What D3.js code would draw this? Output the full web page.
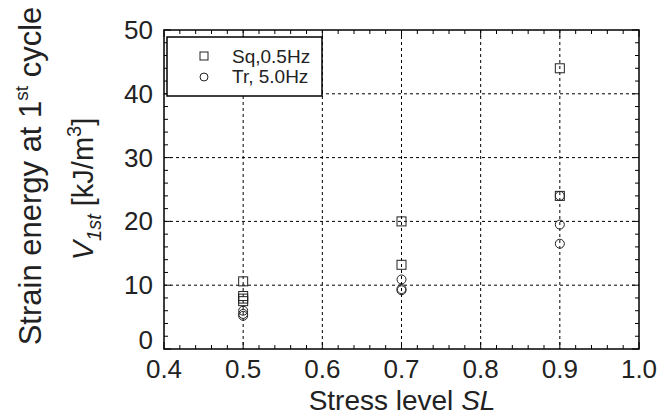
<!DOCTYPE html>
<html>
<head>
<meta charset="utf-8">
<script src="https://cdn.jsdelivr.net/npm/d3@7"></script>
<style>
  body { margin: 0; background: #fff; }
  svg { font-family: "Liberation Sans", Arial, sans-serif; }
</style>
</head>
<body>
<svg id="chart" width="670" height="416"></svg>
<script>
// data
var sqX = [0.5, 0.5, 0.5, 0.5, 0.7, 0.7, 0.9, 0.9];
var sqY = [10.6, 8.3, 7.9, 7.5, 20.0, 13.2, 44.0, 24.0];
var trX = [0.5, 0.5, 0.5, 0.7, 0.7, 0.7, 0.9, 0.9, 0.9];
var trY = [6.0, 5.5, 5.2, 10.9, 9.4, 9.2, 24.0, 19.5, 16.5];
var xTicks = [0.4, 0.5, 0.6, 0.7, 0.8, 0.9, 1.0];
var yTicks = [0, 10, 20, 30, 40, 50];
var legendLabels = ["Sq,0.5Hz", "Tr, 5.0Hz"];

var svg = d3.select("#chart");
var L = 164, R = 639, T = 30, B = 349;

var x = d3.scaleLinear().domain([0.4, 1.0]).range([L, R]);
var y = d3.scaleLinear().domain([0, 50]).range([B, T]);

// dotted grid
var grid = svg.append("g").attr("stroke", "#000").attr("stroke-width", 1)
  .attr("stroke-dasharray", "3,3");
xTicks.slice(1, -1).forEach(function(t) {
  grid.append("line").attr("x1", x(t)).attr("x2", x(t)).attr("y1", T).attr("y2", B);
});
yTicks.slice(1, -1).forEach(function(t) {
  grid.append("line").attr("x1", L).attr("x2", R).attr("y1", y(t)).attr("y2", y(t));
});

// ticks, inward on all four sides
var xMinor = d3.range(0.4, 1.0001, 0.02);
var yMinor = d3.range(0, 50.001, 2);
var tk = svg.append("g").attr("stroke", "#000").attr("stroke-width", 1);
xMinor.forEach(function(t, i) {
  var len = (i % 5 == 0) ? 7 : 4;
  tk.append("line").attr("x1", x(t)).attr("x2", x(t)).attr("y1", B).attr("y2", B - len);
  tk.append("line").attr("x1", x(t)).attr("x2", x(t)).attr("y1", T).attr("y2", T + len);
});
yMinor.forEach(function(t, i) {
  var len = (i % 5 == 0) ? 7 : 4;
  tk.append("line").attr("x1", L).attr("x2", L + len).attr("y1", y(t)).attr("y2", y(t));
  tk.append("line").attr("x1", R).attr("x2", R - len).attr("y1", y(t)).attr("y2", y(t));
});

// frame
svg.append("rect").attr("x", L).attr("y", T).attr("width", R - L).attr("height", B - T)
  .attr("fill", "none").attr("stroke", "#000").attr("stroke-width", 1.5);

// tick labels
svg.selectAll(".xl").data(xTicks).enter().append("text")
  .attr("x", function(d) { return x(d); }).attr("y", B + 29)
  .attr("text-anchor", "middle").attr("font-size", 26).attr("fill", "#222")
  .text(function(d) { return d3.format(".1f")(d); });
svg.selectAll(".yl").data(yTicks).enter().append("text")
  .attr("x", L - 11).attr("y", function(d) { return y(d) + (d == 0 ? 0 : 9); })
  .attr("text-anchor", "end").attr("font-size", 26).attr("fill", "#222")
  .text(function(d) { return d; });

// axis titles
var xt = svg.append("text").attr("x", 402).attr("y", 410)
  .attr("text-anchor", "middle").attr("font-size", 28).attr("fill", "#222");
xt.append("tspan").text("Stress level ");
xt.append("tspan").attr("font-style", "italic").text("SL");

var yt1 = svg.append("text").attr("transform", "translate(41,176) rotate(-90)")
  .attr("text-anchor", "middle").attr("font-size", 31).attr("fill", "#222");
yt1.append("tspan").text("Strain energy at 1");
yt1.append("tspan").attr("font-size", 19).attr("dy", -13).text("st");
yt1.append("tspan").attr("dy", 13).text(" cycle");

var yt2 = svg.append("text").attr("transform", "translate(93,189) rotate(-90)")
  .attr("text-anchor", "middle").attr("font-size", 29).attr("fill", "#222");
yt2.append("tspan").attr("font-style", "italic").text("V");
yt2.append("tspan").attr("font-style", "italic").attr("font-size", 20).attr("dy", 8).text("1st");
yt2.append("tspan").attr("dy", -8).text(" [kJ/m");
yt2.append("tspan").attr("font-size", 20).attr("dy", -12).text("3");
yt2.append("tspan").attr("dy", 12).text("]");

// markers
var s = 9;
svg.selectAll(".sq").data(sqX).enter().append("rect")
  .attr("x", function(d) { return x(d) - s / 2; })
  .attr("y", function(d, i) { return y(sqY[i]) - s / 2; })
  .attr("width", s).attr("height", s)
  .attr("fill", "none").attr("stroke", "#222").attr("stroke-width", 1);
svg.selectAll(".tr").data(trX).enter().append("circle")
  .attr("cx", function(d) { return x(d); })
  .attr("cy", function(d, i) { return y(trY[i]); })
  .attr("r", 4.5)
  .attr("fill", "none").attr("stroke", "#222").attr("stroke-width", 1);

// legend
var lg = svg.append("g");
lg.append("rect").attr("x", 167).attr("y", 37).attr("width", 155).attr("height", 59)
  .attr("fill", "#fff").attr("stroke", "#000").attr("stroke-width", 1.5);
lg.append("rect").attr("x", 200).attr("y", 52).attr("width", 8).attr("height", 8)
  .attr("fill", "none").attr("stroke", "#222").attr("stroke-width", 1);
lg.append("circle").attr("cx", 204).attr("cy", 77).attr("r", 4)
  .attr("fill", "none").attr("stroke", "#222").attr("stroke-width", 1);
legendLabels.forEach(function(t, i) {
  lg.append("text").attr("x", 232).attr("y", 63 + i * 20)
    .attr("font-size", 19).attr("fill", "#222").text(t);
});
</script>
</body>
</html>
